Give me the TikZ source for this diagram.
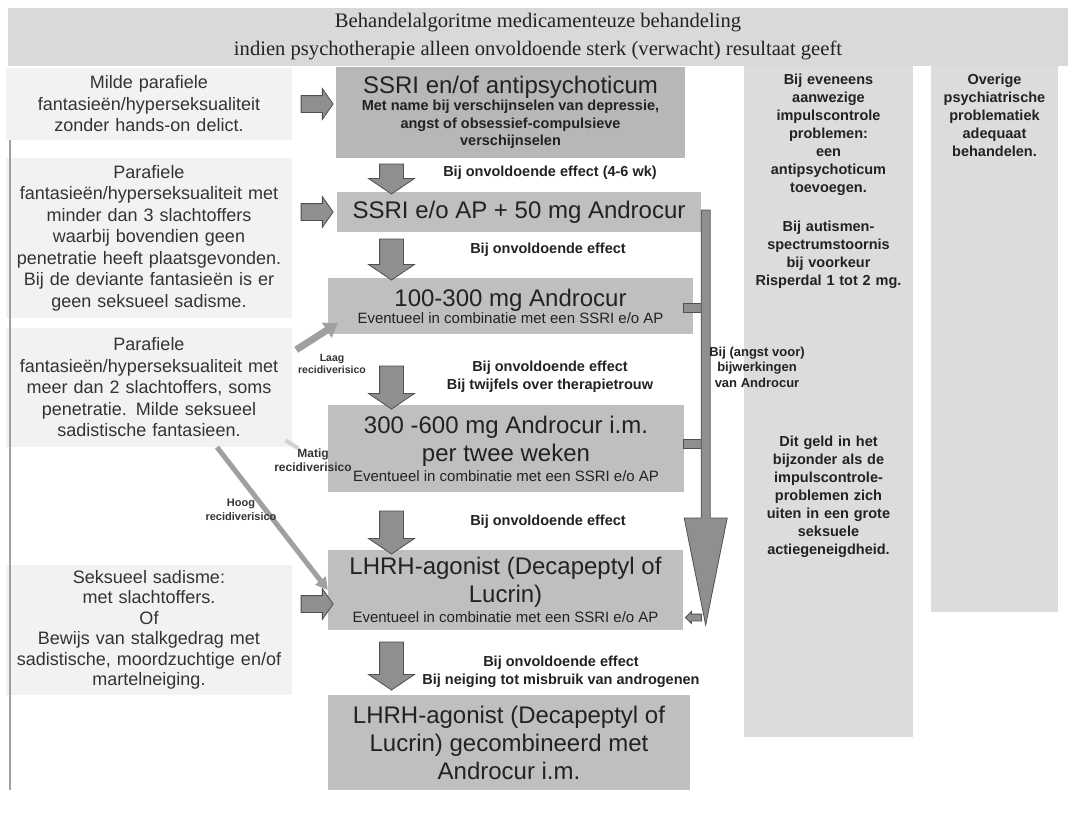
\documentclass[tikz,border=0pt]{standalone}
\usepackage{fontspec}
\setmainfont{Liberation Sans}
\newfontfamily\headserif{Liberation Serif}
\usetikzlibrary{positioning,shapes.arrows,arrows.meta,calc}

\definecolor{headgray}{HTML}{D9D9D9}
\definecolor{colgray}{HTML}{DCDCDC}
\definecolor{leftgray}{HTML}{F2F2F2}
\definecolor{boxgray}{HTML}{BFBFBF}
\definecolor{boxdark}{HTML}{B7B7B7}
\definecolor{arrowfill}{HTML}{8F8F8F}
\definecolor{arrowdraw}{HTML}{505050}
\definecolor{riskgray}{HTML}{A0A0A0}
\definecolor{midtext}{HTML}{222222}
\definecolor{lefttext}{HTML}{333333}

\newcommand{\boxtitle}{\mdseries\fontsize{24}{28}\selectfont}
\newcommand{\boxsub}{\fontsize{15}{18}\selectfont}
\newcommand{\boldnote}{\bfseries\fontsize{14.5}{17.5}\selectfont}

\tikzset{
	headbox/.style={fill=headgray, text=midtext, align=center, inner sep=0pt, font=\headserif\fontsize{20.6}{28}\selectfont},
	leftbox/.style={fill=leftgray, text=lefttext, minimum width=286pt, text width=280pt, align=center, inner sep=0pt, font=\fontsize{18}{21.5}\selectfont},
	midbox/.style={fill=boxgray, text=midtext, align=center, inner sep=0pt, font=\boxtitle},
	colbox/.style={fill=colgray, inner sep=0pt},
	colnote/.style={text=midtext, text width=165pt, align=center, inner sep=0pt, font=\bfseries\fontsize{14.5}{18}\selectfont},
	steplabel/.style={text=midtext, align=center, inner sep=0pt, font=\boldnote},
	risklabel/.style={text=lefttext, align=center, inner sep=0pt},
	blockarrow/.style={single arrow, fill=arrowfill, draw=arrowdraw, line width=0.8pt, inner xsep=0pt},
	rightarrow/.style={blockarrow, inner ysep=8pt, minimum height=32pt, single arrow head extend=7pt, single arrow tip angle=110},
	downarrow/.style={blockarrow, rotate=-90, inner ysep=11.5pt, single arrow head extend=11pt, single arrow tip angle=112},
	tabbox/.style={rectangle, fill=arrowfill, draw=arrowdraw, line width=0.8pt, inner sep=0pt, minimum width=18pt, minimum height=9pt},
	riskarrow/.style={draw=riskgray, line width=#1, -{Triangle[length=13pt,width=17pt]}},
	bigarrow/.style={fill=arrowfill, draw=arrowdraw, line width=0.8pt}
}

\begin{document}
\begin{tikzpicture}[x=1pt,y=-1pt]
	\useasboundingbox (0,0) rectangle (1073,814);

	% header and side columns
	\node[headbox, minimum width=1060pt, minimum height=58pt] (head) at (538,37) {Behandelalgoritme medicamenteuze behandeling\\ indien psychotherapie alleen onvoldoende sterk (verwacht) resultaat geeft};
	\node[colbox, minimum width=169pt, minimum height=671pt] (col1) at (828.5,401.5) {};
	\node[colbox, minimum width=127pt, minimum height=546pt] (col2) at (994.5,339) {};

	\node[colnote, anchor=north] (impuls) at ([yshift=-8pt]col1.north) {Bij eveneens\\ aanwezige\\ impulscontrole\\ problemen:\\ een\\ antipsychoticum\\ toevoegen.};
	\node[colnote, anchor=north] (autisme) at ([yshift=-155pt]col1.north) {Bij autismen-\\ spectrumstoornis\\ bij voorkeur\\ Risperdal 1 tot 2 mg.};
	\node[colnote, anchor=north] (actie) at ([yshift=-370pt]col1.north) {Dit geld in het\\ bijzonder als de\\ impulscontrole-\\ problemen zich\\ uiten in een grote\\ seksuele\\ actiegeneigdheid.};
	\node[colnote, text width=125pt, anchor=north] (overig) at ([yshift=-8pt]col2.north) {Overige\\ psychiatrische\\ problematiek\\ adequaat\\ behandelen.};

	% left side: indications
	\node[leftbox, minimum height=72pt] (lb1) at (149,104) {Milde parafiele\\ fantasieën/hyperseksualiteit\\ zonder hands-on delict.};
	\node[leftbox, minimum height=160pt] (lb2) at (149,238) {Parafiele\\ fantasieën/hyperseksualiteit met\\ minder dan 3 slachtoffers\\ waarbij bovendien geen\\ penetratie heeft plaatsgevonden.\\ Bij de deviante fantasieën is er\\ geen seksueel sadisme.};
	\node[leftbox, minimum height=119pt] (lb3) at (149,387.5) {Parafiele\\ fantasieën/hyperseksualiteit met\\ meer dan 2 slachtoffers, soms\\ penetratie. Milde seksueel\\ sadistische fantasieen.};
	\node[leftbox, minimum height=130pt, font=\fontsize{18}{20.5}\selectfont] (lb4) at (149,630) {Seksueel sadisme:\\ met slachtoffers.\\ Of\\ Bewijs van stalkgedrag met\\ sadistische, moordzuchtige en/of\\ martelneiging.};
	\draw[riskgray, line width=1.5pt] ([xshift=4pt]lb1.south west) -- ([xshift=4pt]lb1.south west |- 0,790);
	\draw[riskgray, line width=1.5pt] ([xshift=4pt]lb1.south west) -- ([xshift=4pt]lb2.north west);

	% treatment steps
	\node[midbox, fill=boxdark, minimum width=349pt, minimum height=91pt, font=\boldnote] (ssri) at (510.5,112.5) {{\boxtitle SSRI en/of antipsychoticum}\\[0pt] {\boldnote Met name bij verschijnselen van depressie,}\\ {\boldnote angst of obsessief-compulsieve}\\ {\boldnote verschijnselen}};
	\node[midbox, minimum width=364pt, minimum height=40pt] (ssriandro) at (519,212) {SSRI e/o AP + 50 mg Androcur};
	\node[midbox, minimum width=365pt, minimum height=56pt] (andro) at (510.5,306) {100-300 mg Androcur\\[-11pt] {\boxsub Eventueel in combinatie met een SSRI e/o AP}};
	\node[midbox, minimum width=356pt, minimum height=87pt] (androim) at (506,448.5) {300 -600 mg Androcur i.m.\\ per twee weken\\[-8pt] {\boxsub Eventueel in combinatie met een SSRI e/o AP}};
	\node[midbox, minimum width=355pt, minimum height=80pt] (lhrh) at (505.5,590) {LHRH-agonist (Decapeptyl of\\ Lucrin)\\[-8pt] {\boxsub Eventueel in combinatie met een SSRI e/o AP}};
	\node[midbox, minimum width=362pt, minimum height=95pt] (lhrhandro) at (509,742.5) {LHRH-agonist (Decapeptyl of\\ Lucrin) gecombineerd met\\ Androcur i.m.};

	% block arrows
	\node[rightarrow] (r1) at ([xshift=22pt]lb1.east) {};
	\node[rightarrow] (r2) at ([xshift=22pt]lb2.east |- ssriandro.west) {};
	\node[rightarrow] (r4) at ([xshift=22pt,yshift=26pt]lb4.east) {};
	\foreach \name/\y/\len in {d1/175/30, d2/255.5/41, d3/383.5/43, d4/528.5/43, d5/662/48}
		\node[downarrow, minimum height=\len pt] (\name) at (391.5,\y) {};

	\node[steplabel] (l1) at (550,173) {Bij onvoldoende effect (4-6 wk)};
	\node[steplabel] (l2) at (548,250) {Bij onvoldoende effect};
	\node[steplabel] (l3) at (550,376.5) {Bij onvoldoende effect\\ Bij twijfels over therapietrouw};
	\node[steplabel] (l4) at (548,522) {Bij onvoldoende effect};
	\node[steplabel] (l5) at (561,672) {Bij onvoldoende effect\\ Bij neiging tot misbruik van androgenen};

	% risk arrows
	\coordinate (matigtip) at ([xshift=6pt,yshift=-1pt]lb3.south east);
	\draw[riskarrow=7pt] ([xshift=4pt,yshift=-22pt]lb3.north east) -- ([xshift=10pt,yshift=11pt]andro.south west);
	\draw[draw=gray!35, line width=4pt] ([xshift=-7pt,yshift=7pt]lb3.south east) -- (matigtip);
	\draw[riskarrow=5pt, -{Triangle[length=12pt,width=13pt]}] ([xshift=68pt]lb3.south) -- (lhrh.west);
	\node[risklabel, font=\bfseries\fontsize{10.5}{12}\selectfont] (laag) at (332,363.5) {Laag\\ recidiverisico};
	\node[risklabel, font=\bfseries\fontsize{12}{14}\selectfont] (matig) at (313,460) {Matig\\ recidiverisico};
	\node[risklabel, font=\bfseries\fontsize{11}{14}\selectfont] (hoog) at (241,510) {Hoog\\ recidiverisico};

	% side arrow for side effects
	\node[tabbox] (tab1) at ([xshift=-1pt,yshift=-1.5pt]andro.east) {};
	\node[tabbox] (tab2) at ([xshift=8pt,yshift=4.5pt]androim.east) {};
	\node[blockarrow, rotate=180, inner ysep=3pt, minimum height=16pt, single arrow head extend=2.5pt] (back) at ([xshift=12pt,yshift=-27.5pt]lhrh.east) {};
	\coordinate (bartop) at ([yshift=2pt]ssriandro.east);
	\draw[bigarrow] (bartop) -- ++(9,0) -- ++(0,308) -- ++(17,0) -- ++(-21.5,107) -- ++(-21.5,-107) -- ++(17,0) -- cycle;
	\node[risklabel, text=midtext, font=\bfseries\fontsize{13}{15.5}\selectfont] (angst) at (757,367) {Bij (angst voor)\\ bijwerkingen\\ van Androcur};
\end{tikzpicture}
\end{document}
